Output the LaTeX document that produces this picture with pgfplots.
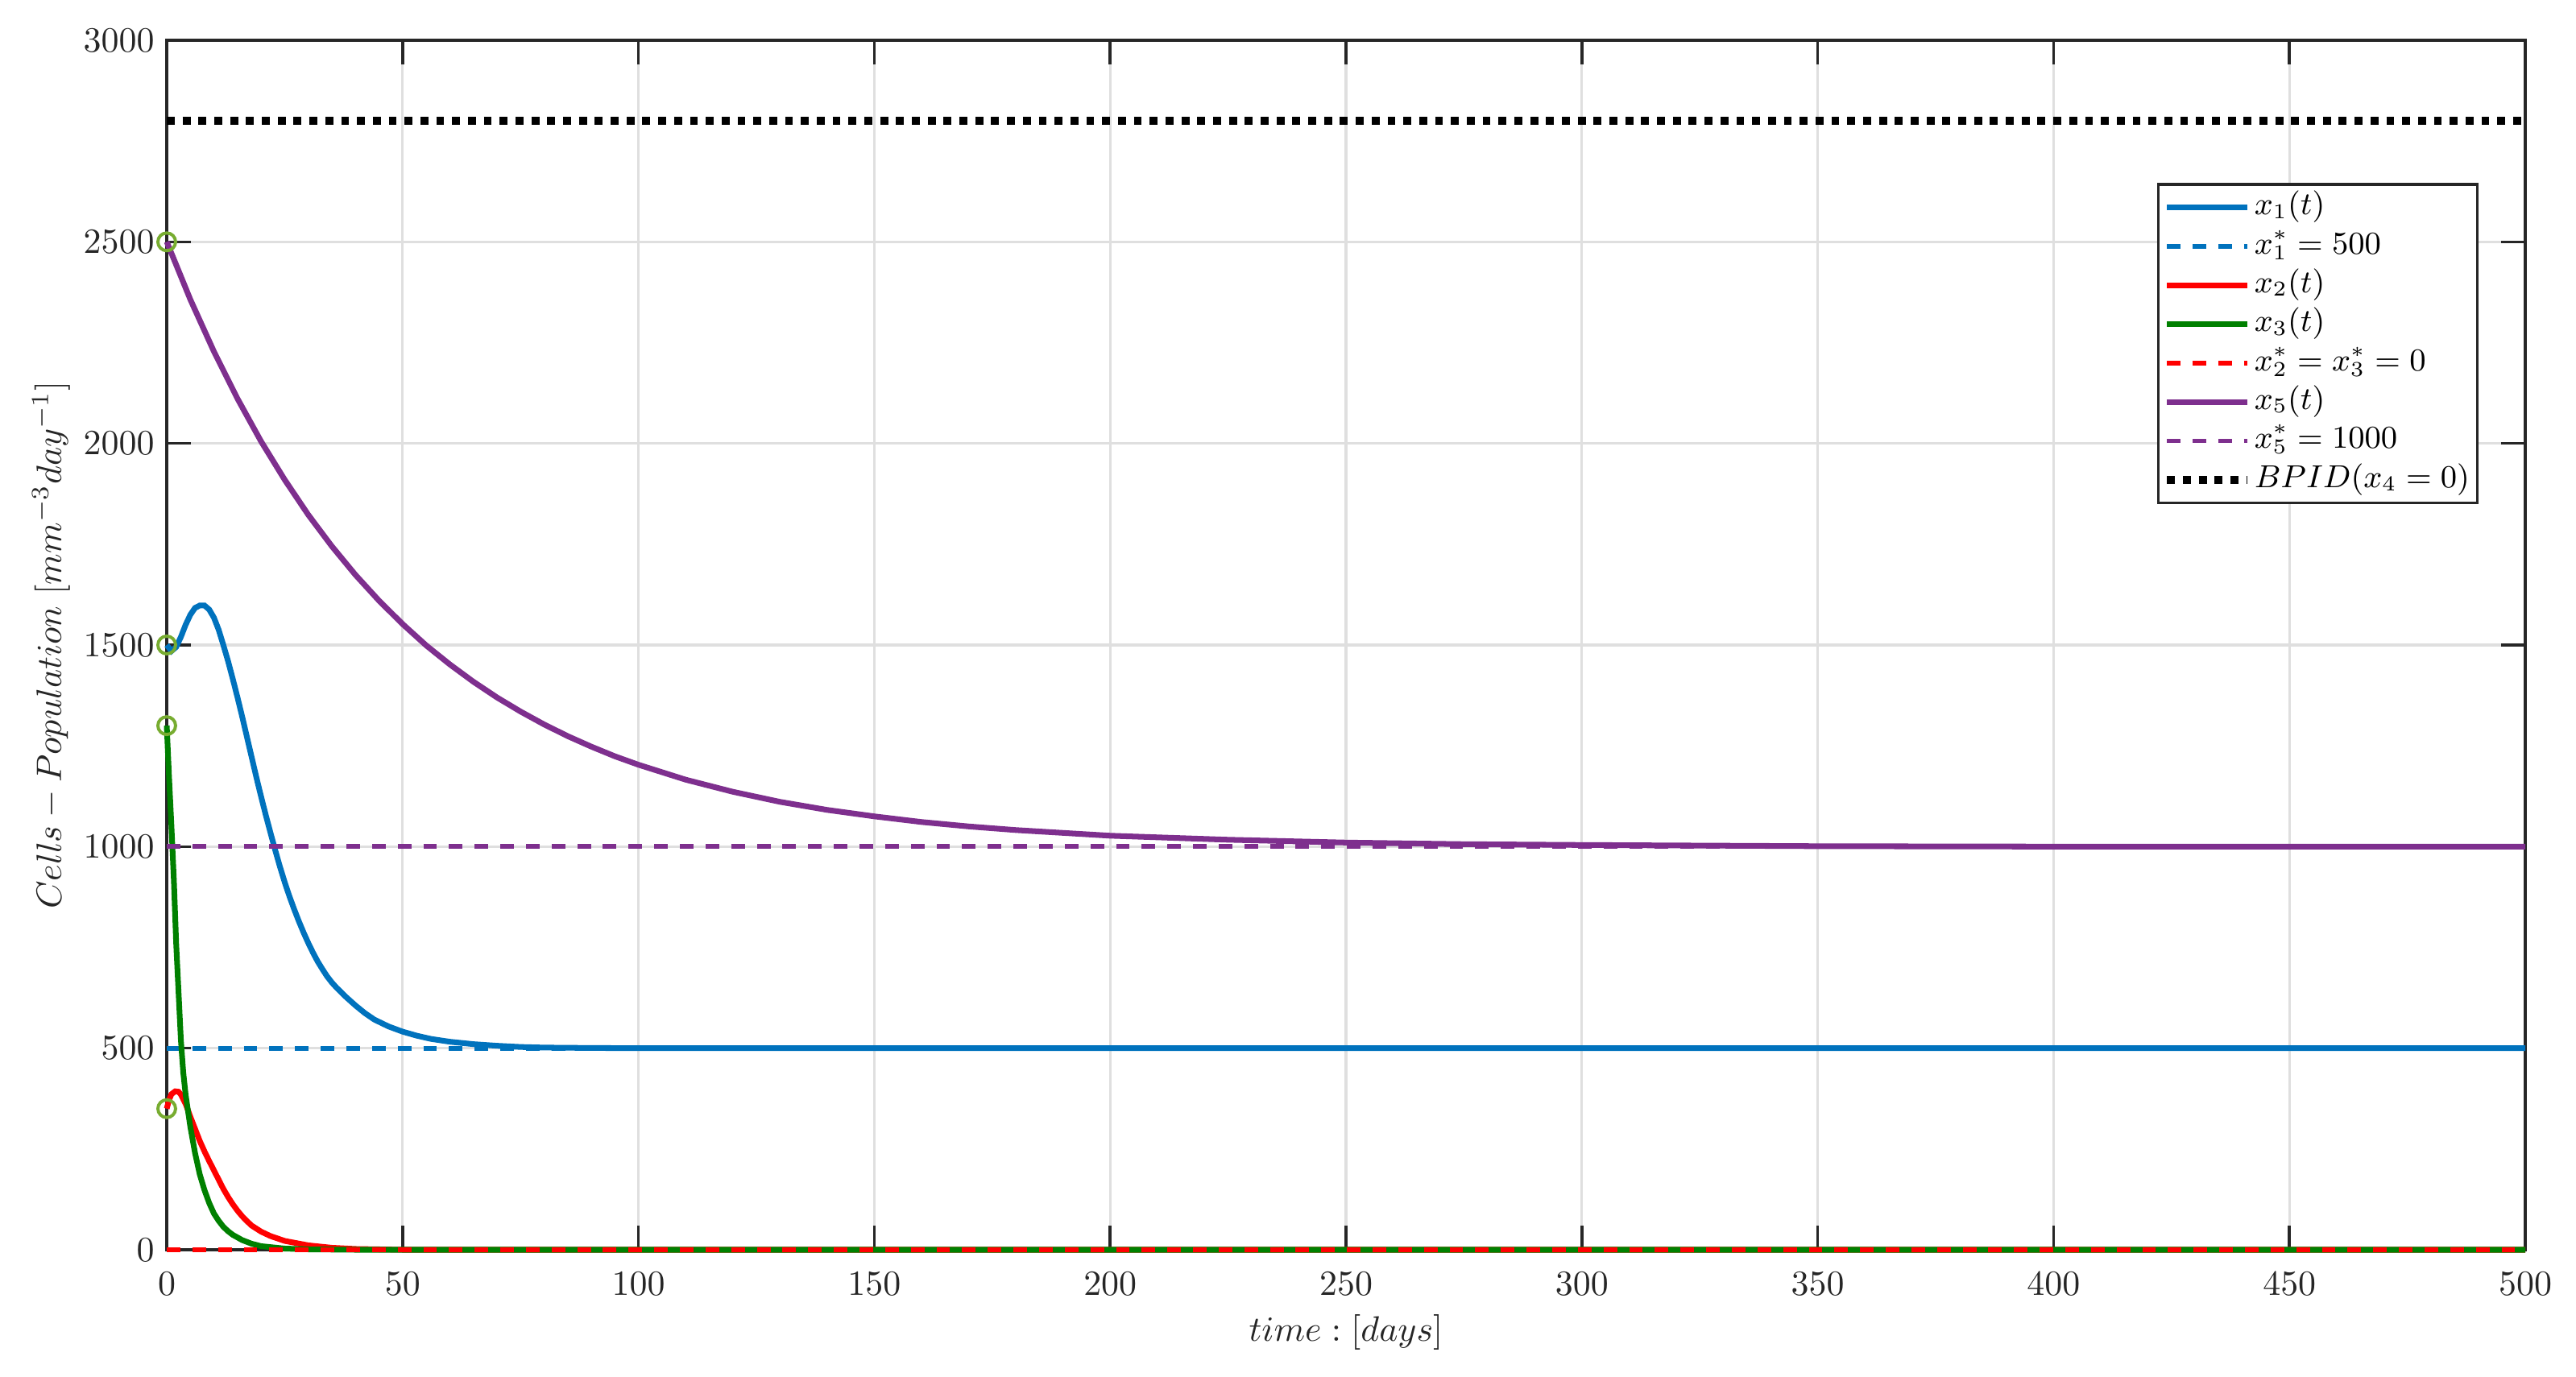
\documentclass[border=0pt]{standalone}
\usepackage{pgfplots}
\pgfplotsset{compat=1.18}

\definecolor{mblue}{RGB}{0,114,189}
\definecolor{mred}{RGB}{255,0,0}
\definecolor{mgreen}{RGB}{0,128,0}
\definecolor{mpurple}{RGB}{126,47,142}
\definecolor{mmark}{RGB}{119,172,48}
\definecolor{axgray}{RGB}{38,38,38}
\definecolor{gridgray}{RGB}{223,223,223}

\pgfplotstableread{
t x1
0 1500
1 1485
2 1495
3 1520
4 1550
5 1575
6 1592
7 1598
8 1598
9 1588
10 1568
11 1538
12 1500
13 1460
14 1416
15 1370
16 1322
17 1272
18 1222
19 1172
20 1124
21 1078
22 1034
23 991
24 950
25 912
26 877
27 845
28 815
29 787
30 761
31 737
32 715
33 696
34 678
35 663
36 650
38 627
40 606
42 587
44 571
47 554
50 541
53 531
56 523
60 516
65 510
70 506
75 503
80 501.5
90 500.5
100 500
500 500
}\xone

\pgfplotstableread{
t x2
0 350
0.5 372
1 386
1.8 393
2.5 392
3 385
4 362
5 330
6 300
7 270
8 244
9 220
10 197
11 174
12 151
13 131
14 113
15 97
16 83
17 71
18 60
20 45
22 34
25 22
30 11
35 5
40 2
50 0
500 0
}\xtwo

\pgfplotstableread{
t x3
0 1300
0.5 1170
1 1050
1.5 920
2 760
2.5 640
3 520
3.5 440
4 385
4.5 345
5 305
6 240
7 187
8 148
9 116
10 90
11 72
12 57
13 46
14 37
16 24
18 15
20 9
25 3
30 1
40 0
500 0
}\xthree

\pgfplotstableread{
t x5
0 2500
2 2443
5 2357
10 2228
15 2111
20 2005
25 1910
30 1823
35 1745
40 1674
45 1610
50 1552
55 1499
60 1452
65 1409
70 1370
75 1335
80 1303
85 1274
90 1248
95 1224
100 1203
110 1166
120 1136
130 1111
140 1091
150 1075
160 1061
170 1050
180 1041
190 1034
200 1027
225 1017
250 1010
275 1006
300 1004
350 1001
400 1000
500 1000
}\xfive

\begin{document}
\begin{tikzpicture}
\begin{axis}[
  width=23.424cm, height=12.016cm, scale only axis,
  xmin=0, xmax=500, ymin=0, ymax=3000,
  xtick={0,50,...,500}, ytick={0,500,...,3000},
  /pgf/number format/1000 sep={},
  tick align=inside, major tick length=0.24cm,
  axis line style={axgray, line width=0.8pt},
  tick style={axgray, line width=0.8pt},
  grid=major, major grid style={gridgray, line width=0.7pt},
  tick label style={font=\fontsize{10}{12}\selectfont, text=axgray},
  xticklabel style={yshift=-0.1cm},
  xlabel={$time:[days]$},
  ylabel={$Cells-Population\ [mm^{-3}day^{-1}]$},
  every axis x label/.style={at={(axis description cs:0.5,-0.068)}, anchor=center,
    font=\fontsize{10}{12}\selectfont, text=axgray},
  every axis y label/.style={at={(axis description cs:-0.049,0.5)}, rotate=90, anchor=center,
    font=\fontsize{10}{12}\selectfont, text=axgray},
  legend cell align=left,
  legend style={at={(0.9802,0.882)}, anchor=north east, draw=axgray,
    line width=0.8pt, fill=white, font=\fontsize{9}{11}\selectfont,
    inner xsep=1.3pt, inner ysep=1pt, row sep=0pt,
    nodes={inner sep=0.8pt, text height=6.8pt, text depth=2.6pt,
      font=\fontsize{9}{11}\selectfont}},
  legend image code/.code={\draw[#1] (0cm,0cm) -- (0.8cm,0cm);},
  clip=false,
]
\addplot[mblue, line width=1.6pt, no markers] table[x=t,y=x1] {\xone};
\addlegendentry{$x_1(t)$}
\addplot[mblue, line width=1.3pt, dash pattern=on 3.85pt off 3.4pt, no markers] coordinates {(0,500) (500,500)};
\addlegendentry{$x_1^*=500$}
\addplot[mred, line width=1.6pt, no markers] table[x=t,y=x2] {\xtwo};
\addlegendentry{$x_2(t)$}
\addplot[mgreen, line width=1.6pt, no markers] table[x=t,y=x3] {\xthree};
\addlegendentry{$x_3(t)$}
\addplot[mred, line width=1.3pt, dash pattern=on 3.85pt off 3.4pt, no markers] coordinates {(0,0) (500,0)};
\addlegendentry{$x_2^*=x_3^*=0$}
\addplot[mpurple, line width=1.6pt, no markers] table[x=t,y=x5] {\xfive};
\addlegendentry{$x_5(t)$}
\addplot[mpurple, line width=1.3pt, dash pattern=on 3.85pt off 3.4pt, no markers] coordinates {(0,1000) (500,1000)};
\addlegendentry{$x_5^*=1000$}
\addplot[black, line width=2.24pt, dash pattern=on 2.24pt off 2.24pt, no markers] coordinates {(0,2800) (500,2800)};
\addlegendentry{$BPID(x_4=0)$}
\addplot[only marks, mark=o, mark size=2.5pt, forget plot,
  mark options={solid, draw=mmark, fill=none, line width=0.9pt}]
  coordinates {(0,2500) (0,1500) (0,1300) (0,350)};
% invisible frame giving the figure its outer margins
\path ([xshift=-1.656cm, yshift=-1.256cm]rel axis cs:0,0) rectangle ([xshift=0.504cm, yshift=0.4cm]rel axis cs:1,1);
\end{axis}
\end{tikzpicture}
\end{document}
